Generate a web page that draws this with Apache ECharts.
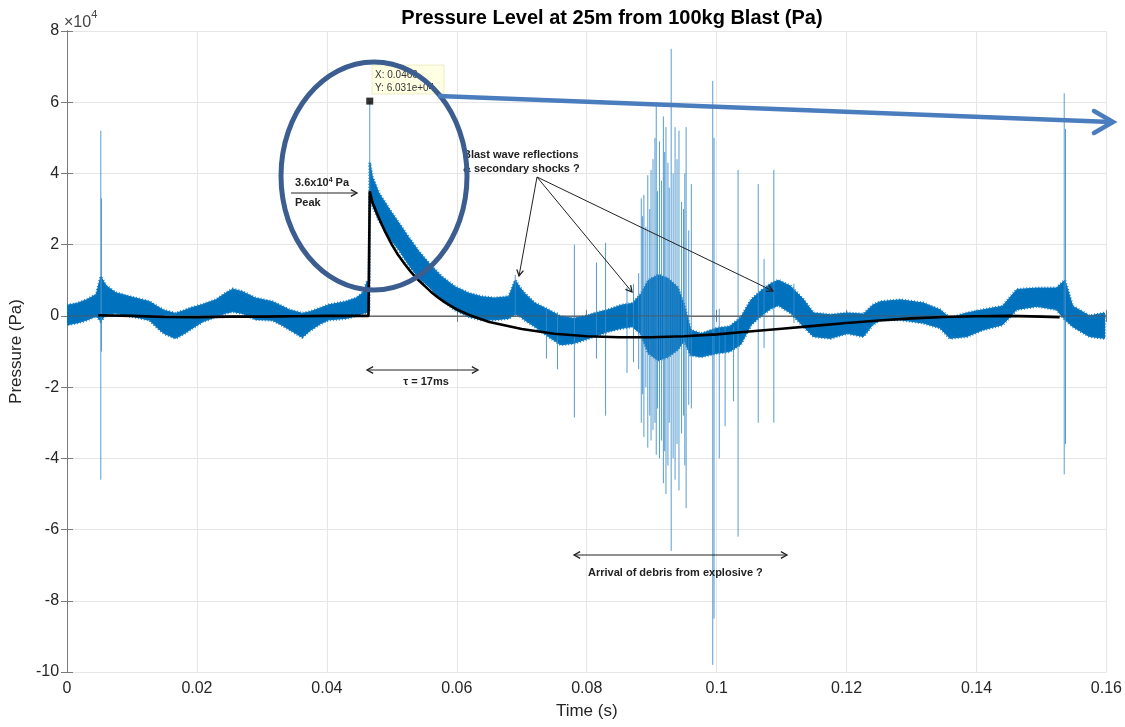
<!DOCTYPE html>
<html>
<head>
<meta charset="utf-8">
<script src="https://cdn.jsdelivr.net/npm/echarts@6/dist/echarts.min.js"></script>
<style>
  html, body { margin: 0; padding: 0; background: #fff; }
  #chart { width: 1125px; height: 727px; }
</style>
</head>
<body>
<div id="chart"></div>
<script>
// Pressure values are in units of 1e4 Pa, time in seconds.

// Envelope of the dense microphone trace (upper / lower edge of the noise band)
const bandT  = [0.0000, 0.0015, 0.0030, 0.0045, 0.0052, 0.0060, 0.0075, 0.0095, 0.0110, 0.0127,
                0.0140, 0.0150, 0.0167, 0.0180, 0.0190, 0.0209, 0.0229, 0.0245, 0.0255, 0.0270,
                0.0290, 0.0316, 0.0330, 0.0342, 0.0362, 0.0375, 0.0390, 0.0403, 0.0429, 0.0445,
                0.0455, 0.0462, 0.0465, 0.0466, 0.0470, 0.0480, 0.0496, 0.0511, 0.0526, 0.0542,
                0.0557, 0.0577, 0.0597, 0.0618, 0.0638, 0.0658, 0.0680, 0.0690, 0.0697, 0.0704,
                0.0720, 0.0741, 0.0760, 0.0780, 0.0800, 0.0811, 0.0833, 0.0853, 0.0870, 0.0883,
                0.0895, 0.0910, 0.0925, 0.0940, 0.0950, 0.0960, 0.0976, 0.1000, 0.1020, 0.1037,
                0.1053, 0.1068, 0.1083, 0.1095, 0.1114, 0.1134, 0.1149, 0.1175, 0.1201, 0.1226,
                0.1240, 0.1252, 0.1283, 0.1318, 0.1344, 0.1359, 0.1385, 0.1410, 0.1440, 0.1462,
                0.1493, 0.1523, 0.1536, 0.1548, 0.1574, 0.1597];
const bandHi = [0.30, 0.35, 0.45, 0.60, 1.10, 0.85, 0.65, 0.55, 0.48, 0.40,
                0.25, 0.15, 0.07, 0.15, 0.22, 0.32, 0.45, 0.65, 0.75, 0.68,
                0.50, 0.40, 0.28, 0.17, 0.07, 0.12, 0.22, 0.31, 0.40, 0.50,
                0.64, 0.95, 1.00, 4.30, 3.90, 3.45, 3.00, 2.60, 2.20, 1.80,
                1.48, 1.10, 0.82, 0.64, 0.54, 0.50, 0.54, 1.00, 0.80, 0.64,
                0.36, 0.17, -0.02, -0.07, 0.00, 0.07, 0.17, 0.30, 0.35, 0.60,
                1.00, 1.15, 1.05, 0.80, 0.30, -0.40, -0.50, -0.35, -0.30, -0.05,
                0.45, 0.70, 0.90, 1.00, 0.83, 0.45, 0.08, 0.03, 0.08, 0.05,
                0.30, 0.40, 0.45, 0.36, 0.17, -0.06, 0.08, 0.17, 0.27, 0.74,
                0.78, 0.78, 1.00, 0.27, 0.00, 0.08];
const bandLo = [-0.25, -0.20, -0.12, 0.00, -0.15, 0.05, 0.08, 0.00, -0.05, -0.12,
                -0.35, -0.50, -0.63, -0.50, -0.38, -0.16, -0.03, 0.08, 0.12, 0.07,
                -0.10, -0.12, -0.25, -0.38, -0.60, -0.40, -0.22, -0.11, -0.07, 0.00,
                0.07, 0.10, 0.10, 3.35, 3.10, 2.70, 2.20, 1.85, 1.43, 1.06,
                0.82, 0.45, 0.17, -0.02, -0.11, -0.11, -0.07, 0.05, 0.00, -0.11,
                -0.30, -0.58, -0.81, -0.77, -0.65, -0.58, -0.44, -0.35, -0.30, -0.50,
                -1.05, -1.25, -1.15, -0.95, -0.70, -1.10, -1.15, -1.05, -1.00, -0.80,
                -0.25, 0.00, 0.20, 0.30, 0.08, -0.30, -0.58, -0.63, -0.49, -0.58,
                -0.25, -0.11, -0.11, -0.20, -0.34, -0.63, -0.58, -0.39, -0.25, 0.18,
                0.27, 0.18, -0.10, -0.30, -0.58, -0.63];

// Isolated sharp excursions of the trace: time, top, bottom
const spikeT  = [0.0052, 0.0053, 0.0466, 0.0690, 0.0738, 0.0755, 0.0781, 0.0815, 0.0829, 0.0862,
                 0.0872, 0.0880, 0.0884, 0.0886, 0.0888, 0.0891, 0.0894, 0.0897, 0.0899, 0.0902,
                 0.0905, 0.0907, 0.0909, 0.0912, 0.0915, 0.0918, 0.0920, 0.0922, 0.0925, 0.0927,
                 0.0930, 0.0933, 0.0936, 0.0939, 0.0942, 0.0946, 0.0949, 0.0951, 0.0953, 0.0957,
                 0.0961, 0.0994, 0.0996, 0.1004, 0.1013, 0.1026, 0.1033, 0.1064, 0.1073, 0.1088,
                 0.1119, 0.1535, 0.1537];
const spikeHi = [5.20, 3.30, 6.031, 1.15, 0.20, 0.10, 2.00, 1.50, 2.05, 0.80,
                 0.90, 1.20, 3.30, 2.80, 3.40, 2.50, 3.95, 3.00, 4.10, 4.40,
                 5.00, 6.00, 3.50, 4.90, 3.80, 5.60, 4.60, 5.30, 4.30, 3.60,
                 7.50, 4.00, 5.30, 4.40, 5.20, 3.20, 3.00, 4.00, 5.30, 2.40,
                 3.70, 6.60, 5.00, 0.20, -0.30, -0.30, 4.10, 3.70, 1.60, 4.10,
                 0.90, 6.25, 5.25];
const spikeLo = [-4.60, -1.00, 1.00, 0.00, -1.20, -1.50, -2.85, -1.20, -2.80, -1.60,
                 -1.30, -1.50, -3.00, -2.20, -3.40, -2.00, -3.70, -2.80, -3.50, -3.20,
                 -3.00, -3.90, -2.60, -4.00, -3.50, -4.70, -3.80, -5.00, -4.20, -3.00,
                 -6.60, -4.00, -4.60, -3.60, -4.90, -3.30, -2.80, -4.20, -5.40, -2.50,
                 -2.60, -9.80, -8.50, -4.00, -3.10, -2.40, -6.20, -3.00, -0.90, -3.00,
                 -0.20, -4.45, -3.60];

// Fitted blast-wave curve
const fitT = [0.0048, 0.0100, 0.0150, 0.0200, 0.0250, 0.0300, 0.0350, 0.0400, 0.0464, 0.0466,
              0.0470, 0.0480, 0.0490, 0.0500, 0.0510, 0.0520, 0.0530, 0.0540, 0.0550, 0.0560,
              0.0570, 0.0580, 0.0590, 0.0600, 0.0620, 0.0650, 0.0700, 0.0750, 0.0800, 0.0850,
              0.0900, 0.0950, 0.1000, 0.1050, 0.1100, 0.1150, 0.1200, 0.1250, 0.1300, 0.1350,
              0.1400, 0.1450, 0.1500, 0.1528];
const fitP = [0.02, 0.00, -0.03, -0.04, -0.02, -0.02, -0.01, 0.00, 0.00, 3.50,
              3.20, 2.75, 2.35, 2.00, 1.70, 1.45, 1.22, 1.02, 0.85, 0.68,
              0.53, 0.40, 0.29, 0.18, 0.02, -0.17, -0.37, -0.50, -0.57, -0.60,
              -0.60, -0.57, -0.52, -0.44, -0.36, -0.28, -0.20, -0.13, -0.07, -0.03,
              -0.01, 0.00, -0.02, -0.04];

// Data tip on the peak sample
const peakTip = [0.0466, 6.031];

const FONT = "'Liberation Sans', Arial, Helvetica, sans-serif";
const INK = '#262626';

const chart = echarts.init(document.getElementById('chart'), null, { renderer: 'canvas' });

// Noise band: filled envelope with a stippled edge for the ragged look of the trace
function bandRender(params, api) {
  const upper = bandT.map((t, i) => api.coord([t, bandHi[i]]));
  const lower = bandT.map((t, i) => api.coord([t, bandLo[i]])).reverse();
  const pts = upper.concat(lower);
  return {
    type: 'group',
    children: [{
      type: 'polygon',
      shape: { points: pts },
      style: { fill: '#0072BD', stroke: '#0072BD', lineWidth: 1 }
    }, {
      type: 'polygon',
      shape: { points: pts },
      style: { fill: null, stroke: '#0b78c2', lineWidth: 3, lineDash: [1, 2], opacity: 0.9 }
    }]
  };
}

function spikeRender(params, api) {
  const p1 = api.coord([api.value(0), api.value(1)]);
  const p2 = api.coord([api.value(0), api.value(2)]);
  return {
    type: 'line',
    shape: { x1: p1[0], y1: p1[1], x2: p2[0], y2: p2[1] },
    style: { stroke: '#3a8ccb', lineWidth: 1, opacity: 0.85 }
  };
}

// Thin open-headed arrow (one or both ends)
function arrow(x1, y1, x2, y2, both, color, width, head) {
  color = color || '#222';
  width = width || 1;
  head = head || 7;
  const els = [{
    type: 'line', z: 100,
    shape: { x1, y1, x2, y2 },
    style: { stroke: color, lineWidth: width }
  }];
  const addHead = (tx, ty, fx, fy) => {
    const a = Math.atan2(ty - fy, tx - fx);
    const s = 0.5;
    els.push({
      type: 'polyline', z: 100,
      shape: { points: [
        [tx - head * Math.cos(a - s), ty - head * Math.sin(a - s)],
        [tx, ty],
        [tx - head * Math.cos(a + s), ty - head * Math.sin(a + s)]
      ] },
      style: { stroke: color, lineWidth: width + 0.3, fill: null }
    });
  };
  addHead(x2, y2, x1, y1);
  if (both) addHead(x1, y1, x2, y2);
  return els;
}

function label(x, y, text, align) {
  return {
    type: 'text', z: 100, x, y,
    style: {
      text, fill: '#222', font: 'bold 11px ' + FONT,
      textAlign: align || 'left', textVerticalAlign: 'middle'
    }
  };
}

const graphics = [].concat(
  // exponent marker of the y axis
  [{
    type: 'text', z: 100, x: 64, y: 9,
    style: {
      text: '{m|×10}{e|4}',
      rich: {
        m: { fontFamily: FONT, fontSize: 16, fill: '#444', verticalAlign: 'bottom', padding: [6, 0, 0, 0] },
        e: { fontFamily: FONT, fontSize: 11, fill: '#444', verticalAlign: 'top' }
      }
    }
  }],
  // data tip box
  [{
    type: 'rect', z: 100,
    shape: { x: 372, y: 65, width: 72, height: 29 },
    style: { fill: '#ffffe3', stroke: '#ececc8', lineWidth: 1 }
  },
  {
    type: 'text', z: 101, x: 375, y: 75,
    style: { text: 'X: 0.0466', fill: '#333', font: '10px ' + FONT, textVerticalAlign: 'middle',
             width: 62, overflow: 'truncate', ellipsis: '' }
  },
  {
    type: 'text', z: 101, x: 375, y: 88,
    style: { text: 'Y: 6.031e+04', fill: '#333', font: '10px ' + FONT, textVerticalAlign: 'middle',
             width: 64, overflow: 'truncate', ellipsis: '' }
  }],
  // peak annotation
  [{
    type: 'text', z: 100, x: 295, y: 183,
    style: {
      text: '{a|3.6x10}{e|4}{a| Pa}',
      textVerticalAlign: 'middle',
      rich: {
        a: { fontFamily: FONT, fontWeight: 'bold', fontSize: 11, fill: '#222' },
        e: { fontFamily: FONT, fontWeight: 'bold', fontSize: 7, fill: '#222', verticalAlign: 'top', padding: [0, 0, 6, 0] }
      }
    }
  }],
  arrow(291, 193, 357, 193),
  [label(295, 203, 'Peak')],
  // reflections annotation
  [label(463, 155, 'Blast wave reflections'), label(463, 169, '& secondary shocks ?')],
  arrow(537, 177, 519, 276),
  arrow(537, 177, 632, 292),
  arrow(537, 177, 773, 291),
  // time constant
  arrow(367, 370, 478, 370, true),
  [label(426, 382, 'τ = 17ms', 'center')],
  // debris
  arrow(574, 555, 787, 555, true),
  [label(588, 573, 'Arrival of debris from explosive ?')],
  // highlight ellipse and pointer
  [{
    type: 'ellipse', z: 110,
    shape: { cx: 374, cy: 176, rx: 93, ry: 114 },
    style: { fill: null, stroke: '#3b5d8f', lineWidth: 5 }
  },
  {
    type: 'line', z: 110,
    shape: { x1: 438, y1: 96, x2: 1111, y2: 122 },
    style: { stroke: '#4a7dbd', lineWidth: 4.5 }
  },
  {
    type: 'polyline', z: 110,
    shape: { points: [[1094, 111], [1113, 122], [1094, 133]] },
    style: { stroke: '#4a7dbd', lineWidth: 4.5, fill: null, lineCap: 'round', lineJoin: 'miter' }
  }]
);

const tickLabel = { color: INK, fontFamily: FONT, fontSize: 16 };
const axisLine = { show: true, lineStyle: { color: '#7a7a7a', width: 1 } };
const axisTick = { show: true, inside: true, length: 6, lineStyle: { color: '#7a7a7a' } };
const gridLine = { show: true, lineStyle: { color: '#e6e6e6', width: 1 } };

const option = {
  animation: false,
  backgroundColor: '#fff',
  title: {
    text: 'Pressure Level at 25m from 100kg Blast (Pa)',
    left: 607, top: 3, textAlign: 'center',
    textStyle: { fontFamily: FONT, fontSize: 20, fontWeight: 'bold', color: '#000' }
  },
  grid: { left: 64, right: 18, top: 31, bottom: 55, containLabel: false },
  xAxis: [{
    type: 'value', min: 0, max: 0.16, interval: 0.02, position: 'bottom',
    name: 'Time (s)', nameLocation: 'middle', nameGap: 31,
    nameTextStyle: { fontFamily: FONT, fontSize: 17, color: INK },
    axisLine, axisTick, splitLine: gridLine,
    axisLabel: Object.assign({ margin: 9, formatter: v => String(+v.toFixed(2)) }, tickLabel)
  }, {
    type: 'value', min: 0, max: 0.16, interval: 0.02, position: 'top',
    axisLine, axisTick, splitLine: { show: false }, axisLabel: { show: false }
  }],
  yAxis: [{
    type: 'value', min: -10, max: 8, interval: 2, position: 'left',
    name: 'Pressure (Pa)', nameLocation: 'middle', nameGap: 34,
    nameTextStyle: { fontFamily: FONT, fontSize: 17, color: INK },
    axisLine, axisTick, splitLine: gridLine,
    axisLabel: Object.assign({ margin: 8 }, tickLabel)
  }, {
    type: 'value', min: -10, max: 8, interval: 2, position: 'right',
    axisLine, axisTick, splitLine: { show: false }, axisLabel: { show: false }
  }],
  series: [
    {
      type: 'custom', name: 'band', renderItem: bandRender, clip: true,
      data: [[0.08, 0]], encode: { x: 0, y: 1 }, z: 2, silent: true
    },
    {
      type: 'custom', name: 'spikes', renderItem: spikeRender, clip: true,
      data: spikeT.map((t, i) => [t, spikeLo[i], spikeHi[i]]),
      encode: { x: 0, y: [1, 2] }, z: 3, silent: true
    },
    {
      type: 'line', name: 'zero', data: [[0, 0], [0.16, 0]],
      showSymbol: false, lineStyle: { color: '#555', width: 0.8 }, z: 4, silent: true
    },
    {
      type: 'line', name: 'fit', data: fitT.map((t, i) => [t, fitP[i]]),
      showSymbol: false, lineStyle: { color: '#000', width: 2.6 }, z: 5, silent: true
    },
    {
      type: 'scatter', name: 'tip', data: [peakTip], symbol: 'rect', symbolSize: 7,
      itemStyle: { color: '#000' }, z: 6, silent: true
    }
  ],
  graphic: { elements: graphics }
};

chart.setOption(option);
</script>
</body>
</html>
